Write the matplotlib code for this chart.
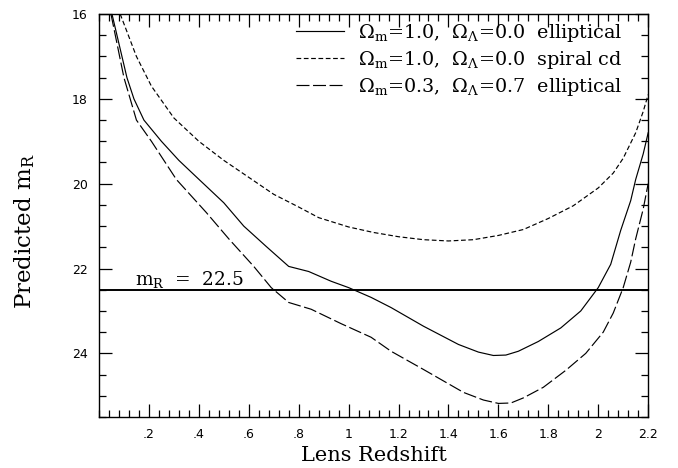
import matplotlib
matplotlib.use("Agg")
import matplotlib.pyplot as plt
from matplotlib.ticker import MultipleLocator, FixedLocator

plt.rcParams['font.family'] = ['DejaVu Serif']
plt.rcParams['mathtext.fontset'] = 'dejavuserif'

# Omega_m=1.0, Omega_L=0.0 elliptical (solid)
z_ell1 = [0.052, 0.112, 0.14, 0.18, 0.25, 0.32, 0.39, 0.50, 0.58, 0.67, 0.76, 0.84, 0.93, 1.00,
          1.09, 1.17, 1.30, 1.44, 1.52, 1.58, 1.63, 1.68, 1.76, 1.85, 1.93, 2.00, 2.05, 2.09, 2.13, 2.15, 2.18, 2.20]
m_ell1 = [16.0, 17.5, 18.0, 18.5, 19.0, 19.45, 19.84, 20.45, 21.0, 21.48, 21.95, 22.07, 22.3, 22.45,
          22.68, 22.92, 23.36, 23.79, 23.97, 24.05, 24.04, 23.95, 23.72, 23.4, 23.0, 22.45, 21.9, 21.1, 20.4, 19.9, 19.3, 18.8]

# Omega_m=1.0, Omega_L=0.0 spiral cd (short dashes)
z_sp = [0.085, 0.15, 0.21, 0.30, 0.40, 0.50, 0.60, 0.70, 0.80, 0.88, 1.00, 1.10, 1.20, 1.30,
        1.40, 1.50, 1.60, 1.70, 1.80, 1.90, 2.00, 2.06, 2.10, 2.15, 2.18, 2.20]
m_sp = [16.0, 17.0, 17.7, 18.45, 19.0, 19.45, 19.85, 20.25, 20.55, 20.8, 21.02, 21.15, 21.25, 21.32,
        21.35, 21.32, 21.22, 21.08, 20.82, 20.52, 20.1, 19.75, 19.4, 18.8, 18.3, 17.9]

# Omega_m=0.3, Omega_L=0.7 elliptical (long dashes)
z_ell2 = [0.048, 0.10, 0.15, 0.21, 0.31, 0.43, 0.52, 0.62, 0.69, 0.76, 0.85, 0.97, 1.09, 1.17,
          1.30, 1.46, 1.54, 1.60, 1.65, 1.70, 1.78, 1.87, 1.95, 2.02, 2.06, 2.10, 2.13, 2.15, 2.18, 2.20]
m_ell2 = [16.0, 17.5, 18.5, 19.0, 19.9, 20.68, 21.3, 21.95, 22.45, 22.8, 22.96, 23.3, 23.62, 23.95,
          24.38, 24.92, 25.1, 25.18, 25.17, 25.05, 24.8, 24.4, 24.0, 23.5, 23.05, 22.45, 21.85, 21.3, 20.6, 20.0]

limit_mag = 22.5

labels = [r'$\Omega_{\rm m}$=1.0,  $\Omega_\Lambda$=0.0  elliptical',
          r'$\Omega_{\rm m}$=1.0,  $\Omega_\Lambda$=0.0  spiral cd',
          r'$\Omega_{\rm m}$=0.3,  $\Omega_\Lambda$=0.7  elliptical']

xticks = [0.2, 0.4, 0.6, 0.8, 1.0, 1.2, 1.4, 1.6, 1.8, 2.0, 2.2]
xticklabels = ['.2', '.4', '.6', '.8', '1', '1.2', '1.4', '1.6', '1.8', '2', '2.2']
yticks = [16, 18, 20, 22, 24]

fig = plt.figure(figsize=(6.78, 4.68), dpi=100)
ax = fig.add_axes([0.146, 0.109, 0.810, 0.861])

lw = 0.85
ax.plot(z_ell1, m_ell1, color='black', lw=lw, ls='-', label=labels[0])
ax.plot(z_sp, m_sp, color='black', lw=lw, ls=(0, (4, 2.2)), label=labels[1])
ax.plot(z_ell2, m_ell2, color='black', lw=lw, ls=(0, (11, 3)), label=labels[2])
ax.axhline(limit_mag, color='black', lw=1.4)
ax.text(0.144, 22.38, r'm$_{\rm R}$  =  22.5', fontsize=13.3, va='baseline', ha='left')

ax.set_xlim(0.0, 2.2)
ax.set_ylim(25.5, 16)

ax.xaxis.set_major_locator(FixedLocator(xticks))
ax.set_xticklabels(xticklabels)
ax.xaxis.set_minor_locator(MultipleLocator(0.04))
ax.yaxis.set_major_locator(FixedLocator(yticks))
ax.yaxis.set_minor_locator(MultipleLocator(0.5))
ax.tick_params(which='both', direction='in', top=True, right=True, width=0.9)
ax.tick_params(which='major', length=9.5, pad=8, labelsize=9)
ax.tick_params(which='minor', length=5)
for lab in ax.get_xticklabels() + ax.get_yticklabels():
    lab.set_family('DejaVu Sans')
for s in ax.spines.values():
    s.set_linewidth(1.0)

ax.set_xlabel('Lens Redshift', fontsize=15)
ax.xaxis.set_label_coords(0.5, -0.072)
ax.set_ylabel(r'Predicted m$_{\rm R}$', fontsize=16.5)
ax.yaxis.set_label_coords(-0.113, 0.46)

ax.legend(loc='upper right', frameon=False, fontsize=13.8, handlelength=2.5,
          handletextpad=0.73, labelspacing=0.26, borderaxespad=0.0, borderpad=0.0,
          bbox_to_anchor=(0.9526, 0.981))

fig.savefig('out.png', dpi=100)
